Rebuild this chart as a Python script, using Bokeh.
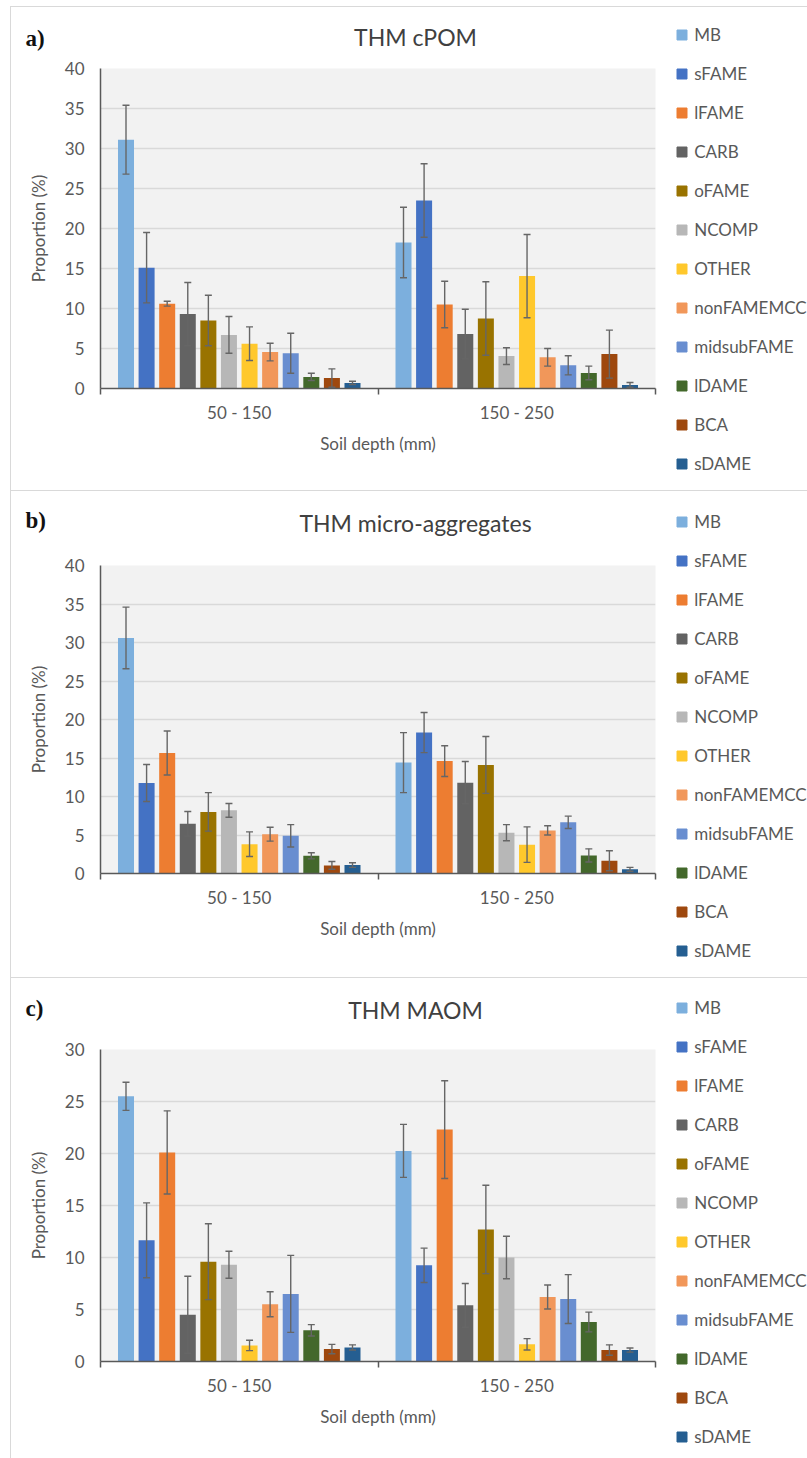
from bokeh.plotting import figure
from bokeh.layouts import column, row
from bokeh.models import (ColumnDataSource, FactorRange, Range1d, LinearAxis,
                          CategoricalAxis, FixedTicker, Label, Legend, LegendItem)
from bokeh.transform import dodge
from bokeh.embed import file_html
from bokeh.resources import INLINE

# Soil depth classes (x categories) and the compound classes plotted in each group
depths = ["50 - 150", "150 - 250"]
components = ["MB", "sFAME", "lFAME", "CARB", "oFAME", "NCOMP", "OTHER",
              "nonFAMEMCC", "midsubFAME", "lDAME", "BCA", "sDAME"]
colors = ["#7cafdd", "#4472c4", "#ed7d31", "#636363", "#997300", "#b7b7b7",
          "#ffc82c", "#f1975a", "#698ed0", "#43682b", "#9e480e", "#255e91"]

ticks_40 = [0, 5, 10, 15, 20, 25, 30, 35, 40]
ticks_30 = [0, 5, 10, 15, 20, 25, 30]

# THM cPOM, proportion (%) with error
cpom_mean_50 = [31.1, 15.1, 10.6, 9.3, 8.5, 6.7, 5.6, 4.55, 4.4, 1.45, 1.3, 0.7]
cpom_err_50 = [4.3, 4.4, 0.3, 3.95, 3.15, 2.3, 2.1, 1.1, 2.5, 0.45, 1.15, 0.2]
cpom_mean_150 = [18.25, 23.5, 10.5, 6.8, 8.75, 4.05, 14.05, 3.9, 2.9, 1.95, 4.3, 0.45]
cpom_err_150 = [4.4, 4.6, 2.9, 3.1, 4.6, 1.05, 5.2, 1.1, 1.2, 0.85, 3.0, 0.3]

# THM micro-aggregates
micro_mean_50 = [30.6, 11.75, 15.65, 6.45, 8.0, 8.2, 3.8, 5.1, 4.9, 2.3, 1.05, 1.1]
micro_err_50 = [4.0, 2.4, 2.85, 1.6, 2.5, 0.9, 1.6, 0.9, 1.45, 0.4, 0.5, 0.3]
micro_mean_150 = [14.4, 18.3, 14.6, 11.8, 14.1, 5.3, 3.75, 5.6, 6.65, 2.35, 1.65, 0.55]
micro_err_150 = [3.9, 2.6, 2.0, 2.75, 3.7, 1.05, 2.3, 0.6, 0.8, 0.85, 1.3, 0.25]

# THM MAOM
maom_mean_50 = [25.5, 11.65, 20.1, 4.5, 9.6, 9.3, 1.55, 5.5, 6.5, 3.0, 1.2, 1.35]
maom_err_50 = [1.35, 3.6, 4.0, 3.7, 3.65, 1.3, 0.5, 1.2, 3.7, 0.55, 0.45, 0.25]
maom_mean_150 = [20.25, 9.25, 22.3, 5.4, 12.7, 10.0, 1.65, 6.2, 6.0, 3.8, 1.1, 1.1]
maom_err_150 = [2.55, 1.65, 4.7, 2.1, 4.25, 2.05, 0.55, 1.15, 2.35, 0.95, 0.5, 0.2]

FONT = "Lato"
TXT = "#595959"
AXIS = "#595959"
CHART_W = 646        # header + bar chart column width
LEGEND_W = 150       # legend strip width
BORDER_L = 89
BORDER_R = 2
PLOT_TOP = 10
PITCH = 0.0742       # spacing between bars inside a depth group (category units)
BAR_W = 0.0577
CAP = 0.0126
LEG_ITEM = 25
LEG_GAP = 14
WHITE = {"background-color": "white"}


def blank(width, height):
    p = figure(width=width, height=height, x_range=Range1d(0, width),
               y_range=Range1d(0, height), x_axis_location=None,
               y_axis_location=None, toolbar_location=None, output_backend="svg",
               min_border=0, outline_line_color=None, frame_align=False,
               background_fill_color="white", border_fill_color="white")
    p.grid.visible = False
    return p


def header(letter, title, height, title_cy, letter_cy):
    h = blank(CHART_W, height)
    h.add_layout(Label(x=404, y=height - title_cy, text=title,
                       text_align="center", text_baseline="middle",
                       text_font=FONT, text_font_size="23px", text_color="#404040"))
    h.add_layout(Label(x=14, y=height - letter_cy, text=letter,
                       text_align="left", text_baseline="middle",
                       text_font="Liberation Serif", text_font_size="23px",
                       text_font_style="bold", text_color="#111111"))
    return h


def legend_strip(height, first_cy):
    g = blank(LEGEND_W, height)
    items = []
    for comp, col in zip(components, colors):
        # key glyph only: its single point lies outside the visible range
        key = g.scatter(x=[-50], y=[-50], marker="square", size=10,
                        fill_color=col, line_color=col)
        items.append(LegendItem(label=comp, renderers=[key]))
    n = len(components)
    leg_h = n * LEG_ITEM + (n - 1) * LEG_GAP
    leg_top = first_cy - LEG_ITEM / 2
    lg = Legend(items=items, location=(12.2, height - (leg_top + leg_h)),
                glyph_width=LEG_ITEM, glyph_height=LEG_ITEM, label_height=LEG_ITEM,
                spacing=LEG_GAP, padding=0, margin=0, label_standoff=-2,
                border_line_color=None, background_fill_alpha=0,
                label_text_font=FONT, label_text_font_size="17px",
                label_text_color=TXT)
    g.add_layout(lg)
    return g


def chart(m1, e1, m2, e2, yticks, height, frame_h):
    bottom = height - PLOT_TOP - frame_h
    p = figure(width=CHART_W, height=height,
               x_range=FactorRange(*depths),
               y_range=Range1d(yticks[0], yticks[-1]),
               x_axis_location=None, toolbar_location=None,
               output_backend="svg", frame_align=False,
               min_border_left=BORDER_L, min_border_right=BORDER_R,
               min_border_top=PLOT_TOP, min_border_bottom=bottom,
               background_fill_color="#f2f2f2", border_fill_color="white",
               outline_line_color=None)

    ya = p.yaxis[0]
    ya.ticker = FixedTicker(ticks=yticks)
    ya.axis_line_color = AXIS
    ya.axis_line_width = 1.5
    ya.major_tick_line_color = None
    ya.minor_tick_line_color = None
    ya.major_tick_in = 0
    ya.major_tick_out = 0
    ya.major_label_standoff = 16
    ya.major_label_text_font = FONT
    ya.major_label_text_font_size = "17px"
    ya.major_label_text_color = TXT
    ya.axis_label = "Proportion (%)"
    ya.axis_label_text_font = FONT
    ya.axis_label_text_font_size = "17px"
    ya.axis_label_text_font_style = "normal"
    ya.axis_label_text_color = TXT
    ya.axis_label_standoff = 13
    p.ygrid.ticker = FixedTicker(ticks=yticks)
    p.ygrid.grid_line_color = "#d9d9d9"
    p.ygrid.grid_line_width = 1.5
    p.xgrid.visible = False

    # baseline with tick marks on the boundaries between depth groups
    bax = LinearAxis(ticker=FixedTicker(ticks=[], minor_ticks=list(range(len(depths) + 1))),
                     axis_line_color=AXIS, axis_line_width=1.5,
                     major_tick_line_color=None,
                     minor_tick_line_color=AXIS, minor_tick_line_width=1.5,
                     minor_tick_in=0, minor_tick_out=6,
                     major_tick_in=0, major_tick_out=0, major_label_standoff=0)
    p.add_layout(bax, "below")
    cax = CategoricalAxis(axis_line_color=None, major_tick_line_color=None,
                          minor_tick_line_color=None, major_tick_in=0, major_tick_out=0,
                          major_label_standoff=7,
                          major_label_text_font=FONT, major_label_text_font_size="17px",
                          major_label_text_color=TXT,
                          axis_label="Soil depth (mm)", axis_label_standoff=7,
                          axis_label_text_font=FONT, axis_label_text_font_size="17px",
                          axis_label_text_font_style="normal", axis_label_text_color=TXT)
    p.add_layout(cax, "below")

    for i, comp in enumerate(components):
        off = (i - (len(components) - 1) / 2) * PITCH
        src = ColumnDataSource(dict(
            depth=depths,
            top=[m1[i], m2[i]],
            lo=[m1[i] - e1[i], m2[i] - e2[i]],
            hi=[m1[i] + e1[i], m2[i] + e2[i]],
        ))
        xc = dodge("depth", off, range=p.x_range)
        xl = dodge("depth", off - CAP, range=p.x_range)
        xr = dodge("depth", off + CAP, range=p.x_range)
        p.vbar(x=xc, top="top", width=BAR_W, source=src,
               fill_color=colors[i], line_color=None)
        p.segment(x0=xc, x1=xc, y0="lo", y1="hi", source=src,
                  line_color="#666666", line_width=1.4)
        p.segment(x0=xl, x1=xr, y0="hi", y1="hi", source=src,
                  line_color="#666666", line_width=1.4)
        p.segment(x0=xl, x1=xr, y0="lo", y1="lo", source=src,
                  line_color="#666666", line_width=1.4)
    return p


def panel(letter, title, m1, e1, m2, e2, yticks, panel_h, head_h, frame_h,
          title_cy, letter_cy, legend_cy, margin):
    head = header(letter, title, head_h, title_cy, letter_cy)
    body = chart(m1, e1, m2, e2, yticks, panel_h - head_h, frame_h)
    side = legend_strip(panel_h, legend_cy)
    return row(column(head, body, spacing=0, styles=WHITE), side,
               spacing=0, margin=margin, styles=WHITE)


pa = panel("a)", "THM cPOM", cpom_mean_50, cpom_err_50, cpom_mean_150, cpom_err_150,
           ticks_40, 483, 51, 320, 29, 30.5, 27.4, (1, 0, 0, 1))
pb = panel("b)", "THM micro-aggregates", micro_mean_50, micro_err_50,
           micro_mean_150, micro_err_150,
           ticks_40, 486, 64, 308, 31.5, 29, 30.0, (0, 0, 0, 1))
pc = panel("c)", "THM MAOM", maom_mean_50, maom_err_50, maom_mean_150, maom_err_150,
           ticks_30, 480, 61, 312, 31, 29.5, 29.7, (0, 0, 0, 1))

page = column(pa, pb, pc, spacing=1, margin=(6, 0, 0, 10),
              styles={"background-color": "#d9d9d9"})

open("out.html", "w").write(file_html(page, INLINE))
